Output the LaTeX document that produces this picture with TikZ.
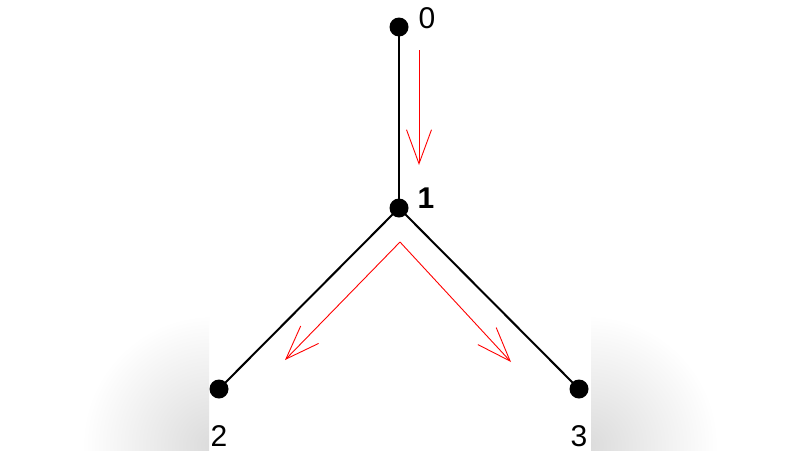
\documentclass[tikz,border=0pt]{standalone}
\usepackage{fontspec}
\setmainfont{Liberation Sans}
\usetikzlibrary{arrows.meta}
\begin{document}
\begin{tikzpicture}[x=1pt,y=-1pt,
  vertex/.style={circle,fill=black,inner sep=0pt,minimum size=19pt},
  edge/.style={line width=2pt,black},
  flow/.style={red,line width=0.9pt,-{Straight Barb[length=34pt,width=25pt,line width=0.9pt]}},
  lbl/.style={font=\fontsize{30}{30}\selectfont,inner sep=0pt}]
\useasboundingbox (0,0) rectangle (800,450);
\fill[white] (0,0) rectangle (800,450);
% faded side blur
\begin{scope}
  \clip (0,0) rectangle (209,450);
  \shade[inner color=black!14,outer color=white] (212,445) circle[radius=130];
\end{scope}
\begin{scope}
  \clip (591,0) rectangle (800,450);
  \shade[inner color=black!14,outer color=white] (588,445) circle[radius=130];
\end{scope}
\node[vertex] (v0) at (399,27) {};
\node[vertex] (v1) at (399,208) {};
\node[vertex] (v2) at (219,389) {};
\node[vertex] (v3) at (579,389) {};
\draw[line width=1.5pt] (v0.center) -- (v1.center);
\draw[edge] (v1.center) -- (v2.center);
\draw[edge] (v1.center) -- (v3.center);
\node[lbl] (l0) at (427,18) {0};
\node[lbl] (l1) at (426,198) {\textbf{1}};
\node[lbl] (l2) at (219,436) {2};
\node[lbl] (l3) at (579,436) {3};
\coordinate (a0s) at (419,50);
\coordinate (a0e) at (419,165);
\coordinate (vtop) at (400,242);
\coordinate (a2e) at (285,360);
\coordinate (a3e) at (511,362);
\draw[flow] (a0s) -- (a0e);
\draw[flow] (vtop) -- (a2e);
\draw[flow] (vtop) -- (a3e);
\end{tikzpicture}
\end{document}
